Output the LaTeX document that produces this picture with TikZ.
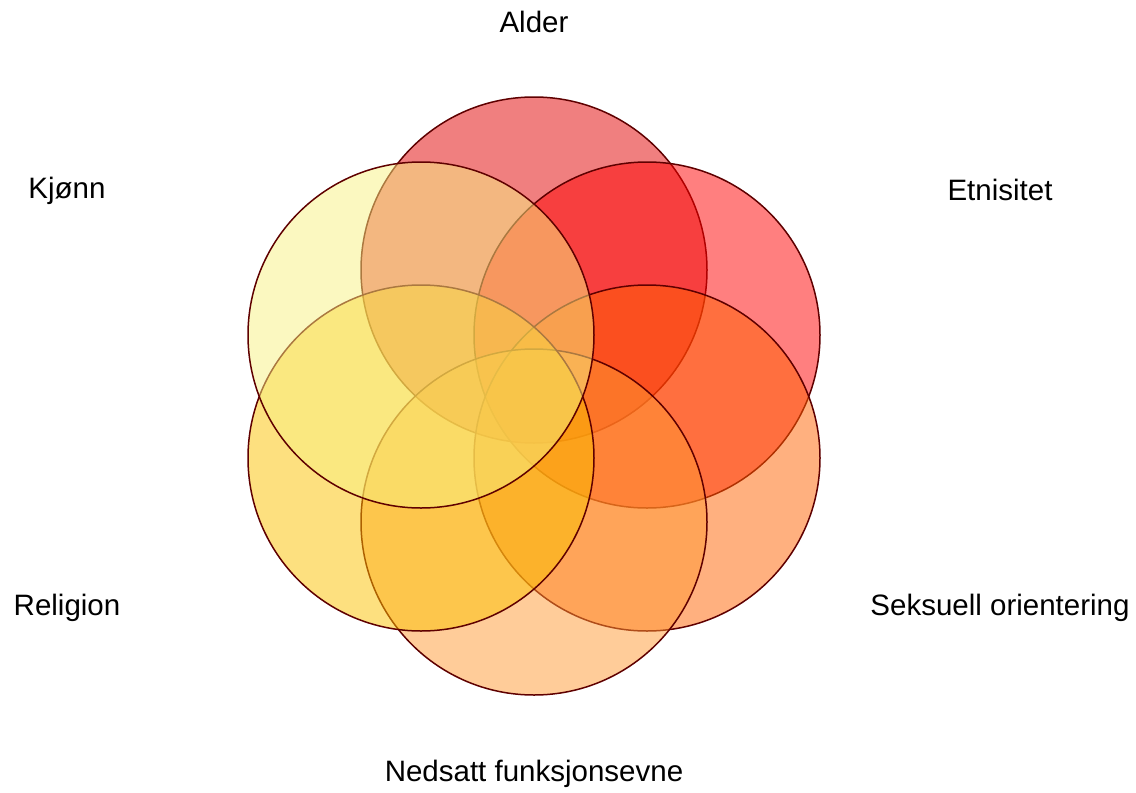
\documentclass[tikz,border=0pt]{standalone}
\usepackage{fontspec}
\setmainfont{Liberation Sans}
\definecolor{edge}{RGB}{95,0,0}
\definecolor{cAlder}{RGB}{225,0,0}
\definecolor{cEtn}{RGB}{255,0,0}
\definecolor{cSeks}{RGB}{255,97,0}
\definecolor{cNed}{RGB}{255,153,51}
\definecolor{cRel}{RGB}{251,193,0}
\definecolor{cKjonn}{RGB}{247,241,129}
\tikzset{
  setc/.style={circle, minimum size=346pt, inner sep=0pt, draw=edge, line width=1.5pt, fill opacity=0.5, draw opacity=1},
  lab/.style={font=\fontsize{29.5}{33}\selectfont, inner sep=0pt, text=black}
}
\begin{document}
\begin{tikzpicture}[x=1pt,y=-1pt]
\useasboundingbox (0,0) rectangle (1136,793);
\node[setc, fill=cAlder] (alder) at (534,270) {};
\node[setc, fill=cEtn] (etn) at (647,335) {};
\node[setc, fill=cSeks] (seks) at (647,458) {};
\node[setc, fill=cNed] (ned) at (534,522) {};
\node[setc, fill=cRel] (rel) at (421,458) {};
\node[setc, fill=cKjonn] (kjonn) at (421,335) {};
\node[lab] (lAlder) at (534,22) {Alder};
\node[lab] (lEtn) at (1000,190) {Etnisitet};
\node[lab] (lSeks) at (1000,608) {Seksuell orientering};
\node[lab] (lNed) at (534,774) {Nedsatt funksjonsevne};
\node[lab] (lRel) at (67,608) {Religion};
\node[lab] (lKjonn) at (67,191) {Kjønn};
\end{tikzpicture}
\end{document}
